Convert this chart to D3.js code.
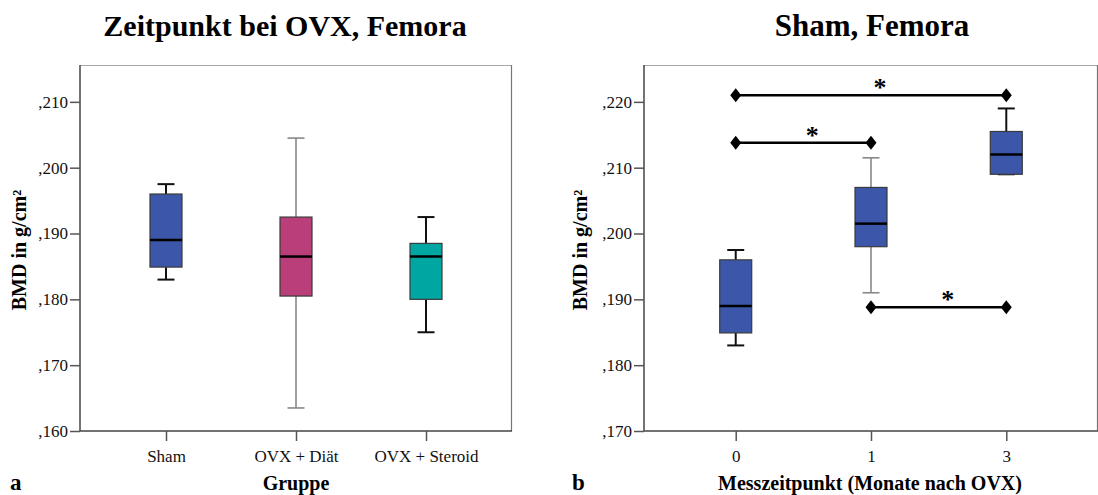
<!DOCTYPE html>
<html><head><meta charset="utf-8">
<script src="https://cdn.jsdelivr.net/npm/d3@7/dist/d3.min.js"></script>
<style>body{margin:0;background:#fff}svg{display:block}svg text{font-family:"Liberation Serif","Times New Roman",Times,serif}</style>
</head><body><svg id="c" width="1098" height="495"></svg>
<script>
// Panel a data
const groupsA = ["Sham", "OVX + Diät", "OVX + Steroid"];
const minA = [0.183, 0.1635, 0.175];
const q1A  = [0.1849, 0.1805, 0.180];
const medA = [0.189, 0.1865, 0.1865];
const q3A  = [0.196, 0.1925, 0.1885];
const maxA = [0.1975, 0.2045, 0.1925];
const ticksA = [0.160, 0.170, 0.180, 0.190, 0.200, 0.210];

// Panel b data
const groupsB = ["0", "1", "3"];
const minB = [0.183, 0.191, 0.209];
const q1B  = [0.1849, 0.198, 0.209];
const medB = [0.189, 0.2015, 0.212];
const q3B  = [0.196, 0.207, 0.2155];
const maxB = [0.1975, 0.2115, 0.219];
const ticksB = [0.170, 0.180, 0.190, 0.200, 0.210, 0.220];
const sigFrom = ["0", "0", "1"];
const sigTo   = ["3", "1", "3"];
const sigY    = [0.221, 0.2138, 0.1888];

const svg = d3.select("#c");
const fmt = v => d3.format(".3f")(v).replace(/^0\./, ",");

function panel(o){
  const g = svg.append("g");
  const y = d3.scaleLinear().domain(o.ydom).range([431, 65]);
  const x = d3.scalePoint().domain(o.groups).range([o.x0, o.x1]).padding(o.pad);
  // frame
  g.append("line").attr("x1", o.x0).attr("x2", o.x1).attr("y1", 65.5).attr("y2", 65.5).attr("stroke", "#a8a8a8").attr("stroke-width", 1.2);
  g.append("line").attr("x1", o.x1 - 0.5).attr("x2", o.x1 - 0.5).attr("y1", 65).attr("y2", 431).attr("stroke", "#777").attr("stroke-width", 1.2);
  // axes
  const ya = g.append("g").attr("transform", `translate(${o.x0},0)`)
    .call(d3.axisLeft(y).tickValues(o.ticks).tickFormat(fmt).tickSize(10).tickPadding(2));
  const xa = g.append("g").attr("transform", `translate(0,431)`)
    .call(d3.axisBottom(x).tickSize(10).tickPadding(9));
  [ya, xa].forEach(a => {
    a.attr("font-family", null).attr("font-size", null);
    a.select(".domain").attr("stroke", "#444").attr("stroke-width", 1.5);
    a.selectAll(".tick line").attr("stroke", "#555").attr("stroke-width", 1.5);
    a.selectAll("text").attr("font-size", 17).attr("fill", "#111");
  });
  ya.select(".domain").attr("d", `M-0,431V65`);
  xa.select(".domain").attr("d", `M${o.x0},0H${o.x1}`);
  // boxes
  const bw = 32, cw = 17;
  o.groups.forEach((k, i) => {
    const cx = x(k);
    const wc = o.wcol[i], ww = o.wwid[i];
    g.append("line").attr("x1", cx).attr("x2", cx).attr("y1", y(o.max[i])).attr("y2", y(o.q3[i])).attr("stroke", wc).attr("stroke-width", ww);
    g.append("line").attr("x1", cx).attr("x2", cx).attr("y1", y(o.q1[i])).attr("y2", y(o.min[i])).attr("stroke", wc).attr("stroke-width", ww);
    g.append("line").attr("x1", cx - cw/2).attr("x2", cx + cw/2).attr("y1", y(o.max[i])).attr("y2", y(o.max[i])).attr("stroke", wc).attr("stroke-width", ww);
    g.append("line").attr("x1", cx - cw/2).attr("x2", cx + cw/2).attr("y1", y(o.min[i])).attr("y2", y(o.min[i])).attr("stroke", wc).attr("stroke-width", ww);
    g.append("rect").attr("x", cx - bw/2).attr("width", bw).attr("y", y(o.q3[i])).attr("height", y(o.q1[i]) - y(o.q3[i]))
      .attr("fill", o.colors[i]).attr("stroke", "#3a3a3a").attr("stroke-width", 1.2);
    g.append("line").attr("x1", cx - bw/2).attr("x2", cx + bw/2).attr("y1", y(o.med[i])).attr("y2", y(o.med[i])).attr("stroke", "#000").attr("stroke-width", 2.5);
  });
  // titles
  g.append("text").attr("x", o.tx).attr("y", 36).attr("text-anchor", "middle").attr("font-size", o.tfs).attr("font-weight", "bold").text(o.title);
  g.append("text").attr("transform", `translate(${o.yx},250) rotate(-90)`).attr("text-anchor", "middle").attr("font-size", 20).attr("font-weight", "bold").text("BMD in g/cm²");
  g.append("text").attr("x", o.xtx).attr("y", 490).attr("text-anchor", "middle").attr("font-size", 20).attr("font-weight", "bold").text(o.xtitle);
  g.append("text").attr("x", o.lx).attr("y", 490).attr("font-size", 23).attr("font-weight", "bold").text(o.letter);
  return {g, x, y};
}

panel({groups: groupsA, ydom: [0.160, 0.2156], ticks: ticksA, x0: 80, x1: 512, pad: 0.6615,
  min: minA, q1: q1A, med: medA, q3: q3A, max: maxA,
  colors: ["#3c57a9", "#b93e79", "#00a6a2"], wcol: ["#111", "#888", "#111"], wwid: [2, 1.6, 2],
  tx: 285, tfs: 30, title: "Zeitpunkt bei OVX, Femora", yx: 26, xtx: 296, xtitle: "Gruppe", lx: 10, letter: "a"});

const pb = panel({groups: groupsB, ydom: [0.170, 0.2256], ticks: ticksB, x0: 644, x1: 1098, pad: 0.678,
  min: minB, q1: q1B, med: medB, q3: q3B, max: maxB,
  colors: ["#3c57a9", "#3c57a9", "#3c57a9"], wcol: ["#111", "#888", "#111"], wwid: [2, 1.6, 2],
  tx: 872, tfs: 31, title: "Sham, Femora", yx: 587, xtx: 870, xtitle: "Messzeitpunkt (Monate nach OVX)", lx: 572, letter: "b"});

// significance brackets
sigFrom.forEach((f, i) => {
  const xa = pb.x(f), xb = pb.x(sigTo[i]), yy = pb.y(sigY[i]);
  pb.g.append("line").attr("x1", xa).attr("x2", xb).attr("y1", yy).attr("y2", yy).attr("stroke", "#000").attr("stroke-width", 2.5);
  [xa, xb].forEach(xx => {
    pb.g.append("path").attr("d", `M${xx - 5.5},${yy}L${xx},${yy - 7}L${xx + 5.5},${yy}L${xx},${yy + 7}Z`).attr("fill", "#000");
  });
  pb.g.append("text").attr("x", (xa + xb) / 2 + 9).attr("y", yy + 1).attr("text-anchor", "middle").attr("font-size", 26).attr("font-weight", "bold").text("*");
});
</script></body></html>
